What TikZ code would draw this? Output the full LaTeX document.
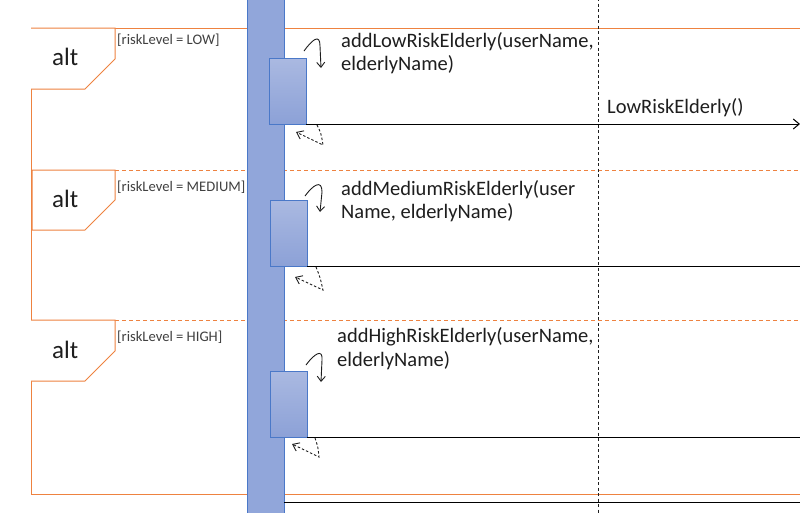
\documentclass[tikz,border=0pt]{standalone}
\usepackage{fontspec}
\setmainfont{Carlito}
\usetikzlibrary{arrows.meta}
\definecolor{frameor}{HTML}{EE8240}
\definecolor{lifefill}{HTML}{91A6DA}
\definecolor{lifedraw}{HTML}{4A78C8}
\definecolor{acttop}{HTML}{AAB9E1}
\definecolor{actbot}{HTML}{8CA1D7}
\definecolor{ink}{HTML}{1E1E1E}
\begin{document}
\begin{tikzpicture}[x=1pt,y=-1pt,
 frame/.style={draw=frameor,line width=1pt},
 sep/.style={draw=frameor,line width=1pt,dash pattern=on 4pt off 3pt},
 tag/.style={draw=frameor,line width=1pt,fill=white},
 alttxt/.style={anchor=base west,font=\fontsize{25}{28}\selectfont,inner sep=0pt,text=ink},
 guard/.style={anchor=base west,font=\fontsize{14.6}{16}\selectfont,inner sep=0pt,text=ink!85},
 msgtxt/.style={anchor=base west,font=\fontsize{20.5}{24}\selectfont,inner sep=0pt,text=ink},
 lifeline/.style={fill=lifefill,draw=lifedraw,line width=1pt},
 act/.style={rectangle,draw=lifedraw,line width=1pt,top color=acttop,bottom color=actbot,minimum width=37pt,minimum height=66pt,anchor=north west,inner sep=0pt,outer sep=0pt},
 msg/.style={draw=black,line width=1pt},
 msgarrow/.style={msg,-{Straight Barb[length=6pt,width=10pt]}},
 selfcall/.style={draw=ink,line width=0.9pt,-{Straight Barb[length=5pt,width=8pt]}},
 ret/.style={draw=ink,line width=0.9pt,dash pattern=on 2.5pt off 2pt,-{Straight Barb[length=6pt,width=9pt]}},
 vlife/.style={draw=ink,line width=1pt,dash pattern=on 3pt off 2.5pt},
]
\useasboundingbox (0,0) rectangle (800,512);
\clip (0,0) rectangle (800,512);
\fill[white] (0,0) rectangle (800,512);

% outer combined fragment frame
\draw[frame] (810,28) -- (31,28) -- (31,494) -- (810,494);
% operand separators
\draw[sep] (115,170) -- (810,170);
\draw[sep] (115,320) -- (810,320);
% alt tags
\draw[tag] (31,28) -- (115,28) -- (115,59) -- (85,89) -- (31,89);
\draw[tag] (32,170) -- (115,170) -- (115,200) -- (85,230) -- (32,230) -- cycle;
\draw[tag] (31,320) -- (115,320) -- (115,351) -- (85,381) -- (31,381);
\node[alttxt] (alt1) at (52,65) {alt};
\node[alttxt] (alt2) at (52,207) {alt};
\node[alttxt] (alt3) at (52,358) {alt};
\node[guard] (g1) at (117,44) {[riskLevel = LOW]};
\node[guard] (g2) at (117,191) {[riskLevel = MEDIUM]};
\node[guard] (g3) at (117,341) {[riskLevel = HIGH]};

% second lifeline (dashed)
\draw[vlife] (598,-2) -- (598,514);

% first lifeline
\draw[lifeline] (247,-5) rectangle (284,520);

% activation boxes
\node[act] (a1) at (269,58) {};
\node[act] (a2) at (270,200) {};
\node[act] (a3) at (270,371) {};

% messages
\coordinate (e1) at (800,124);
\coordinate (e2) at (801,266);
\coordinate (e3) at (801,437);
\coordinate (s4) at (284,502);
\coordinate (e4) at (801,502);
\draw[msgarrow] (a1.south east) -- (e1);
\draw[msg] (a2.south east) -- (e2);
\draw[msg] (a3.south east) -- (e3);
\draw[msg] (s4) -- (e4);

% self calls
\draw[selfcall] (304,51) .. controls (312,40) and (320,33) .. (320,46) -- (321,68);
\draw[selfcall] (305,196) .. controls (313,185) and (322,179) .. (322,192) -- (320,212);
\draw[selfcall] (306,365) .. controls (314,354) and (323,348) .. (322,360) -- (321,382);

% returns
\draw[ret] (317,125) .. controls (321,133) .. (323,145) -- (296,132);
\draw[ret] (316,267) .. controls (320,277) .. (323,290) -- (295,277);
\draw[ret] (315,438) .. controls (318,447) .. (319,457) -- (292,444);

% labels
\node[msgtxt] (t1a) at (341,47) {addLowRiskElderly(userName,};
\node[msgtxt] (t1b) at (341,70) {elderlyName)};
\node[msgtxt] (t2a) at (341,195) {addMediumRiskElderly(user};
\node[msgtxt] (t2b) at (341,218) {Name, elderlyName)};
\node[msgtxt] (t3a) at (337,342) {addHighRiskElderly(userName,};
\node[msgtxt] (t3b) at (337,366) {elderlyName)};
\node[msgtxt] (t4) at (607,113) {LowRiskElderly()};
\end{tikzpicture}
\end{document}
